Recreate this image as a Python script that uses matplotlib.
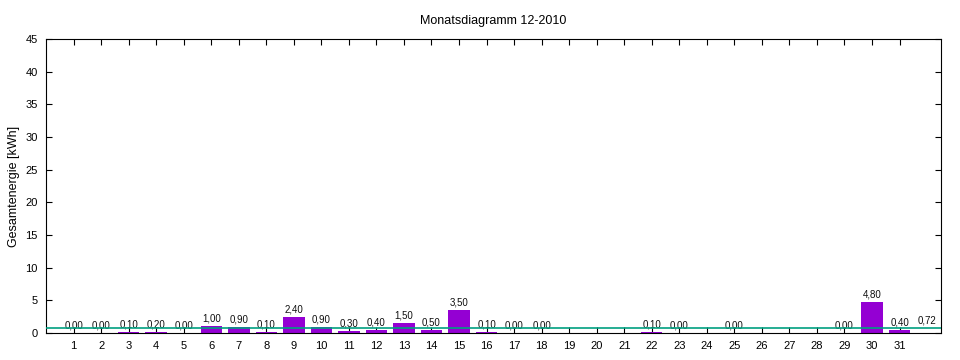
import matplotlib
matplotlib.use("Agg")
import matplotlib.pyplot as plt

plt.rcParams['font.family'] = ['Liberation Sans', 'DejaVu Sans']

# days with data and their energy values (kWh)
days = [1, 2, 3, 4, 5, 6, 7, 8, 9, 10, 11, 12, 13, 14, 15, 16, 17, 18,
        22, 23, 25, 29, 30, 31]
energy = [0.00, 0.00, 0.10, 0.20, 0.00, 1.00, 0.90, 0.10, 2.40, 0.90, 0.30,
          0.40, 1.50, 0.50, 3.50, 0.10, 0.00, 0.00,
          0.10, 0.00, 0.00, 0.00, 4.80, 0.40]
average = 0.72
month_days = list(range(1, 32))

fig = plt.figure(figsize=(9.6, 3.6), dpi=100)
ax = fig.add_axes([0.048, 0.075, 0.932, 0.817])

ax.bar(days, energy, width=0.78, color='#9400d3', zorder=2)
for d, v in zip(days, energy):
    ax.text(d, v + 0.4, f"{v:.2f}".replace('.', ','), ha='center', va='bottom',
            fontsize=7, color='#101010')

ax.axhline(average, color='#00a080', lw=1.2, zorder=3)
ax.text(32, average + 0.4, f"{average:.2f}".replace('.', ','), ha='center',
        va='bottom', fontsize=7, color='#101010')

ax.set_xlim(0, 32.5)
ax.set_ylim(0, 45)
ax.set_xticks(month_days)
ax.set_yticks(range(0, 46, 5))
ax.tick_params(direction='in', top=True, right=True, length=4, labelsize=8,
               width=0.8, pad=6)
for s in ax.spines.values():
    s.set_linewidth(0.8)

ax.set_ylabel("Gesamtenergie [kWh]", fontsize=9)
ax.set_title("Monatsdiagramm 12-2010", fontsize=9, pad=11)

fig.savefig("out.png")
